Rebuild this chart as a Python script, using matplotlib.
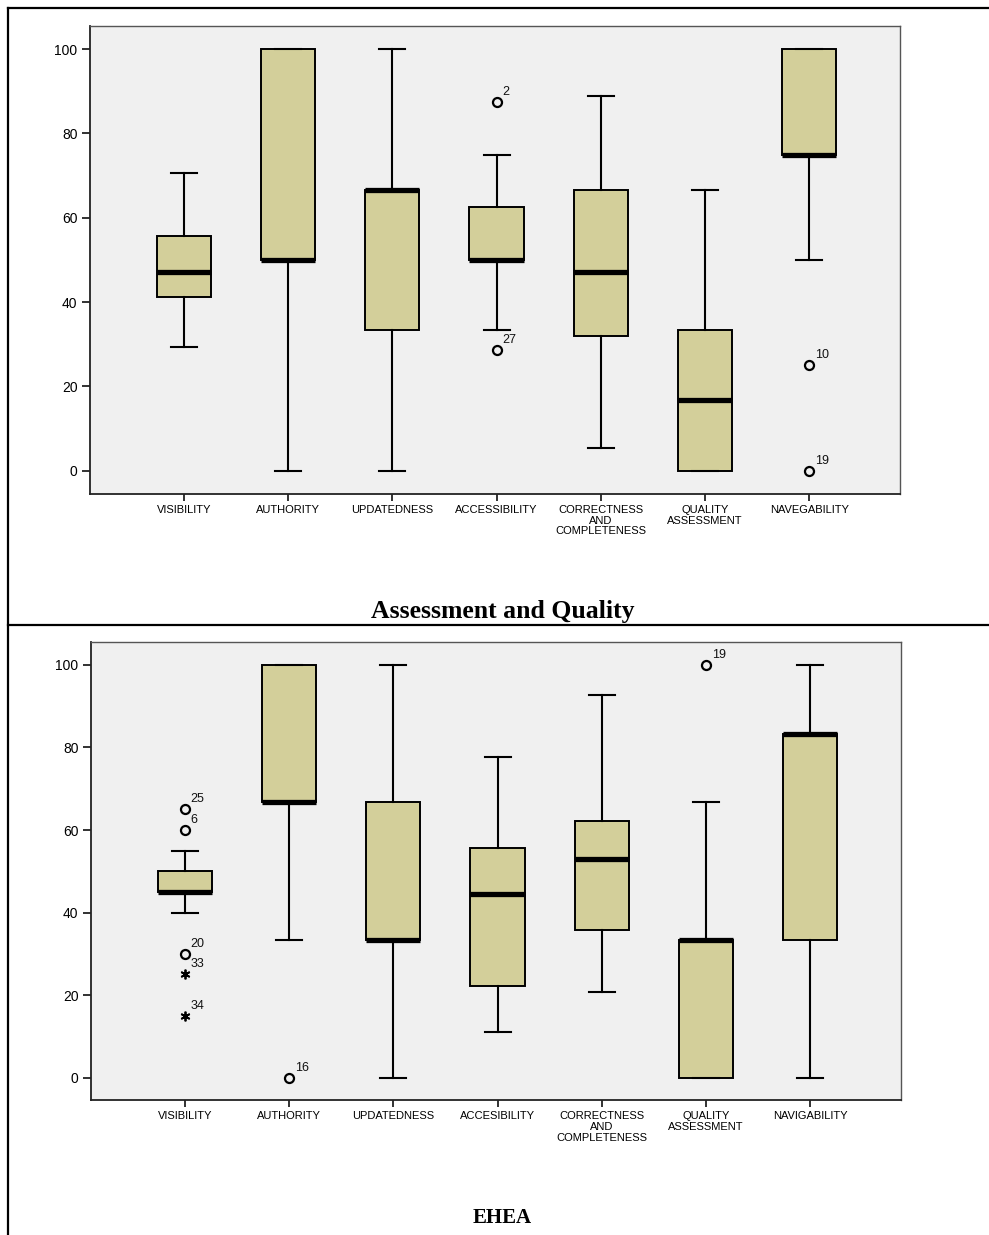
import matplotlib
matplotlib.use("Agg")
import matplotlib.pyplot as plt
from matplotlib.lines import Line2D

plt.rcParams['font.family'] = ['Liberation Sans', 'DejaVu Sans']

# ---------------------------------------------------------------------------
# data
# top panel : "Assessment and Quality"
cats_top = ["VISIBILITY", "AUTHORITY", "UPDATEDNESS", "ACCESSIBILITY",
            "CORRECTNESS\nAND\nCOMPLETENESS", "QUALITY\nASSESSMENT", "NAVEGABILITY"]
whislo_top = [29.4, 0.0, 0.0, 33.3, 5.5, 0.0, 50.0]
q1_top = [41.2, 50.0, 33.3, 50.0, 32.0, 0.0, 75.0]
med_top = [47.1, 50.0, 66.7, 50.0, 47.2, 16.7, 75.0]
q3_top = [55.8, 100.0, 66.7, 62.5, 66.7, 33.3, 100.0]
whishi_top = [70.6, 100.0, 100.0, 75.0, 88.9, 66.7, 100.0]
out_cat_top = [4, 4, 7, 7]
out_val_top = [87.5, 28.6, 25.0, 0.0]
out_id_top = ["2", "27", "10", "19"]
out_kind_top = ["o", "o", "o", "o"]

# bottom panel : "EHEA"
cats_bot = ["VISIBILITY", "AUTHORITY", "UPDATEDNESS", "ACCESIBILITY",
            "CORRECTNESS\nAND\nCOMPLETENESS", "QUALITY\nASSESSMENT", "NAVIGABILITY"]
whislo_bot = [40.0, 33.3, 0.0, 11.1, 20.8, 0.0, 0.0]
q1_bot = [45.0, 66.7, 33.3, 22.2, 35.8, 0.0, 33.3]
med_bot = [45.0, 66.7, 33.3, 44.4, 52.9, 33.3, 83.3]
q3_bot = [50.0, 100.0, 66.7, 55.6, 62.2, 33.3, 83.3]
whishi_bot = [55.0, 100.0, 100.0, 77.8, 92.6, 66.7, 100.0]
out_cat_bot = [1, 1, 1, 1, 1, 2, 6]
out_val_bot = [65.0, 60.0, 30.0, 25.0, 15.0, 0.0, 100.0]
out_id_bot = ["25", "6", "20", "33", "34", "16", "19"]
out_kind_bot = ["o", "o", "o", "*", "*", "o", "o"]

yticks = [0, 20, 40, 60, 80, 100]

box_color = "#d3cf9a"
bg_color = "#f0f0f0"


def draw_panel(ax, cats, whislo, q1, med, q3, whishi,
               out_cat, out_val, out_id, out_kind):
    stats = []
    for i in range(len(cats)):
        stats.append({"whislo": whislo[i], "q1": q1[i], "med": med[i],
                      "q3": q3[i], "whishi": whishi[i], "fliers": []})
    pos = list(range(1, len(cats) + 1))
    ax.bxp(stats, positions=pos, widths=0.52, showfliers=False,
           patch_artist=True, capwidths=0.25,
           boxprops=dict(facecolor=box_color, edgecolor="black", linewidth=1.4),
           medianprops=dict(color="black", linewidth=3.8, solid_capstyle="butt"),
           whiskerprops=dict(color="black", linewidth=1.5),
           capprops=dict(color="black", linewidth=1.5))

    # outliers (o) and extremes (*) with their case numbers
    for c, v, lab, k in zip(out_cat, out_val, out_id, out_kind):
        if k == "o":
            ax.plot(c, v, marker="o", markersize=6.5, markerfacecolor="none",
                    markeredgecolor="black", markeredgewidth=1.6,
                    linestyle="none", clip_on=False)
        else:
            ax.plot(c, v, marker=(6, 2, 0), markersize=7,
                    markeredgecolor="black", markeredgewidth=1.3,
                    linestyle="none", clip_on=False)
        ax.annotate(lab, (c, v), xytext=(4, 3), textcoords="offset points",
                    ha="left", va="bottom", fontsize=9, color="#111111")

    ax.set_facecolor(bg_color)
    ax.set_xlim(0.1, 7.87)
    ax.set_ylim(-5.5, 105.5)
    ax.set_yticks(yticks)
    ax.set_yticklabels([str(t) for t in yticks], fontsize=10)
    ax.set_xticks(pos)
    ax.set_xticklabels(cats, fontsize=8, linespacing=1.08)
    ax.tick_params(axis="y", length=6, width=1.3, pad=3, color="#222222")
    ax.tick_params(axis="x", length=5, width=1.3, pad=3, color="#222222")
    for s in ["top", "right"]:
        ax.spines[s].set_color("#555555")
        ax.spines[s].set_linewidth(1.0)
    for s in ["left", "bottom"]:
        ax.spines[s].set_color("#222222")
        ax.spines[s].set_linewidth(1.3)


fig = plt.figure(figsize=(9.89, 12.35), dpi=100)

ax1 = fig.add_axes([0.091, 0.600, 0.819, 0.379])
draw_panel(ax1, cats_top, whislo_top, q1_top, med_top, q3_top, whishi_top,
           out_cat_top, out_val_top, out_id_top, out_kind_top)

ax2 = fig.add_axes([0.092, 0.109, 0.819, 0.371])
draw_panel(ax2, cats_bot, whislo_bot, q1_bot, med_bot, q3_bot, whishi_bot,
           out_cat_bot, out_val_bot, out_id_bot, out_kind_bot)

fig.text(0.508, 0.505, "Assessment and Quality", ha="center", va="center",
         fontsize=18.5, fontweight="bold", family="Liberation Serif")
fig.text(0.508, 0.0138, "EHEA", ha="center", va="center",
         fontsize=15, fontweight="bold", family="Liberation Serif")

# table-like frame around the two panels
x_left = 8 / 989
y_top = 1 - 8 / 1235
y_mid = 1 - 625 / 1235
fig.add_artist(Line2D([x_left, x_left], [0, y_top], color="black", linewidth=1.6))
fig.add_artist(Line2D([x_left, 1], [y_top, y_top], color="black", linewidth=1.6))
fig.add_artist(Line2D([x_left, 1], [y_mid, y_mid], color="black", linewidth=1.6))

fig.savefig("out.png", dpi=100)
